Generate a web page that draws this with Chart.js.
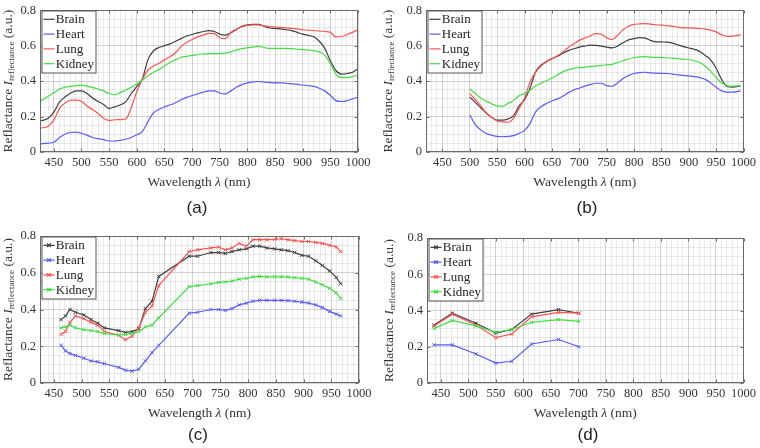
<!DOCTYPE html>
<html>
<head>
<meta charset="utf-8">
<script src="https://cdn.jsdelivr.net/npm/chart.js@4.4.0/dist/chart.umd.min.js"></script>
<style>
    body { margin: 0; background: #fff; width: 760px; height: 448px; position: relative; overflow: hidden; }
    .panel { position: absolute; width: 380px; height: 224px; }
    .cap { position: absolute; font-family: "Liberation Sans", Arial, sans-serif; font-size: 17px; color: #222; transform: translate(-50%, -50%); }
</style>
</head>
<body>
<div class="panel" style="left:0;top:0"><canvas id="chart-a"></canvas></div>
<div class="panel" style="left:380px;top:0"><canvas id="chart-b"></canvas></div>
<div class="panel" style="left:0;top:224px"><canvas id="chart-c"></canvas></div>
<div class="panel" style="left:380px;top:224px"><canvas id="chart-d"></canvas></div>
<div class="cap" style="left:197px;top:208px">(a)</div>
<div class="cap" style="left:587px;top:208px">(b)</div>
<div class="cap" style="left:198px;top:435px">(c)</div>
<div class="cap" style="left:588px;top:435px">(d)</div>

<script>
// Spectres de réflectance par tissu - 4 panneaux (a)-(d)

const tissues = ['Brain', 'Heart', 'Lung', 'Kidney'];
const tissueColors = ['#3f3f3f', '#5a5aff', '#ff5252', '#44dd44'];
const xTickLabels = [450, 500, 550, 600, 650, 700, 750, 800, 850, 900, 950, 1000];
const yTickLabels = [0, 0.2, 0.4, 0.6, 0.8];

// (a)
const wlA = [425, 440, 450, 460, 470, 480, 490, 500, 510, 520, 530, 540, 550, 560, 570, 580, 590, 600, 610, 620,
    630, 640, 650, 660, 670, 680, 690, 700, 710, 720, 730, 740, 750, 760, 770, 780, 790, 800, 810, 820,
    830, 840, 850, 860, 870, 880, 890, 900, 910, 920, 930, 940, 950, 960, 970, 980, 990, 1000];
const brainA = [0.175, 0.19, 0.225, 0.28, 0.31, 0.332, 0.345, 0.345, 0.33, 0.305, 0.285, 0.268, 0.245, 0.255, 0.265, 0.283, 0.33, 0.37, 0.41, 0.52,
    0.57, 0.59, 0.60, 0.61, 0.625, 0.64, 0.655, 0.663, 0.672, 0.68, 0.685, 0.68, 0.665, 0.66, 0.672, 0.69, 0.71, 0.717, 0.72, 0.72,
    0.71, 0.70, 0.697, 0.695, 0.69, 0.685, 0.675, 0.665, 0.658, 0.65, 0.625, 0.585, 0.515, 0.46, 0.44, 0.443, 0.45, 0.47];
const heartA = [0.046, 0.05, 0.055, 0.08, 0.10, 0.11, 0.112, 0.106, 0.095, 0.082, 0.075, 0.07, 0.062, 0.062, 0.066, 0.072, 0.082, 0.097, 0.115, 0.17,
    0.22, 0.24, 0.255, 0.265, 0.278, 0.295, 0.308, 0.318, 0.328, 0.338, 0.345, 0.345, 0.333, 0.328, 0.345, 0.365, 0.38, 0.39, 0.396, 0.398,
    0.395, 0.392, 0.39, 0.39, 0.388, 0.385, 0.382, 0.378, 0.374, 0.37, 0.36, 0.345, 0.32, 0.29, 0.285, 0.29, 0.30, 0.31];
const lungA = [0.135, 0.145, 0.18, 0.245, 0.275, 0.292, 0.293, 0.285, 0.26, 0.24, 0.217, 0.19, 0.178, 0.182, 0.183, 0.186, 0.25, 0.34, 0.41, 0.46,
    0.485, 0.50, 0.52, 0.537, 0.56, 0.595, 0.618, 0.635, 0.65, 0.66, 0.67, 0.668, 0.645, 0.64, 0.675, 0.693, 0.707, 0.715, 0.718, 0.718,
    0.712, 0.708, 0.705, 0.703, 0.70, 0.698, 0.695, 0.69, 0.687, 0.685, 0.683, 0.68, 0.675, 0.65, 0.652, 0.662, 0.675, 0.69];
const kidneyA = [0.285, 0.315, 0.335, 0.355, 0.365, 0.37, 0.375, 0.377, 0.372, 0.365, 0.355, 0.345, 0.33, 0.323, 0.335, 0.35, 0.365, 0.385, 0.405, 0.43,
    0.45, 0.465, 0.485, 0.505, 0.52, 0.535, 0.54, 0.545, 0.55, 0.553, 0.555, 0.555, 0.556, 0.558, 0.565, 0.575, 0.583, 0.588, 0.592, 0.596,
    0.59, 0.585, 0.585, 0.585, 0.585, 0.583, 0.58, 0.578, 0.575, 0.572, 0.565, 0.545, 0.50, 0.44, 0.42, 0.42, 0.425, 0.435];

// (b)
const wlB = [500, 510, 520, 530, 540, 550, 560, 570, 580, 590, 600, 610, 620, 630, 640, 650, 660, 670, 680, 690,
    700, 710, 720, 730, 740, 750, 760, 770, 780, 790, 800, 810, 820, 830, 840, 850, 860, 870, 880, 890,
    900, 910, 920, 930, 940, 950, 960, 970, 980, 990, 995];
const brainB = [0.31, 0.28, 0.25, 0.22, 0.195, 0.18, 0.18, 0.187, 0.205, 0.26, 0.295, 0.36, 0.45, 0.49, 0.51, 0.527, 0.54, 0.557, 0.572, 0.583,
    0.592, 0.598, 0.603, 0.602, 0.598, 0.592, 0.588, 0.598, 0.617, 0.633, 0.64, 0.645, 0.643, 0.63, 0.622, 0.621, 0.62, 0.614, 0.605, 0.595,
    0.587, 0.58, 0.568, 0.545, 0.52, 0.473, 0.41, 0.37, 0.366, 0.37, 0.374];
const heartB = [0.21, 0.155, 0.125, 0.104, 0.095, 0.088, 0.086, 0.088, 0.092, 0.105, 0.122, 0.16, 0.225, 0.255, 0.274, 0.288, 0.30, 0.315, 0.335, 0.35,
    0.36, 0.372, 0.38, 0.388, 0.388, 0.375, 0.371, 0.39, 0.415, 0.432, 0.443, 0.448, 0.45, 0.447, 0.445, 0.444, 0.443, 0.44, 0.435, 0.432,
    0.43, 0.425, 0.42, 0.41, 0.39, 0.365, 0.345, 0.338, 0.338, 0.342, 0.345];
const lungB = [0.33, 0.295, 0.26, 0.22, 0.195, 0.175, 0.17, 0.168, 0.19, 0.245, 0.305, 0.395, 0.45, 0.485, 0.51, 0.525, 0.543, 0.565, 0.59, 0.61,
    0.63, 0.643, 0.655, 0.668, 0.665, 0.645, 0.635, 0.658, 0.69, 0.71, 0.72, 0.723, 0.725, 0.722, 0.718, 0.716, 0.713, 0.71, 0.705, 0.70,
    0.70, 0.699, 0.697, 0.693, 0.687, 0.678, 0.661, 0.652, 0.654, 0.658, 0.663];
const kidneyB = [0.356, 0.33, 0.305, 0.288, 0.272, 0.26, 0.258, 0.275, 0.29, 0.318, 0.33, 0.348, 0.372, 0.388, 0.402, 0.418, 0.435, 0.452, 0.465, 0.472,
    0.476, 0.479, 0.482, 0.485, 0.489, 0.492, 0.495, 0.505, 0.515, 0.525, 0.532, 0.537, 0.538, 0.535, 0.534, 0.533, 0.532, 0.53, 0.527, 0.524,
    0.522, 0.515, 0.505, 0.485, 0.455, 0.42, 0.39, 0.375, 0.372, 0.373, 0.374];

// (c) bandes mesurées
const wlC = [463, 471, 479, 489, 504, 517, 529, 541, 567, 579, 591, 603, 615, 627, 639, 694, 709, 733, 747, 759,
    771, 784, 797, 809, 821, 834, 848, 860, 872, 884, 897, 909, 922, 934, 947, 959, 967];
const brainC = [0.345, 0.365, 0.40, 0.385, 0.37, 0.345, 0.325, 0.30, 0.285, 0.275, 0.28, 0.295, 0.405, 0.445, 0.58, 0.69, 0.69, 0.71, 0.71, 0.705,
    0.715, 0.725, 0.73, 0.745, 0.745, 0.735, 0.73, 0.725, 0.72, 0.71, 0.695, 0.69, 0.665, 0.64, 0.61, 0.575, 0.54];
const heartC = [0.205, 0.175, 0.16, 0.15, 0.135, 0.12, 0.115, 0.105, 0.085, 0.07, 0.065, 0.075, 0.12, 0.165, 0.205, 0.38, 0.385, 0.40, 0.40, 0.395,
    0.405, 0.425, 0.435, 0.445, 0.45, 0.45, 0.45, 0.45, 0.448, 0.445, 0.44, 0.435, 0.425, 0.41, 0.39, 0.375, 0.365];
const lungC = [0.265, 0.28, 0.33, 0.365, 0.35, 0.33, 0.315, 0.28, 0.26, 0.235, 0.255, 0.30, 0.385, 0.42, 0.53, 0.715, 0.725, 0.735, 0.74, 0.725,
    0.735, 0.76, 0.745, 0.78, 0.78, 0.78, 0.782, 0.785, 0.78, 0.775, 0.77, 0.77, 0.765, 0.76, 0.75, 0.74, 0.715];
const kidneyC = [0.30, 0.305, 0.315, 0.30, 0.29, 0.285, 0.28, 0.27, 0.26, 0.265, 0.27, 0.28, 0.305, 0.315, 0.355, 0.525, 0.53, 0.54, 0.548, 0.55,
    0.555, 0.565, 0.57, 0.578, 0.58, 0.578, 0.578, 0.578, 0.577, 0.573, 0.57, 0.565, 0.55, 0.535, 0.515, 0.49, 0.46];

// (d)
const wlD = [438, 471, 514, 550, 579, 615, 664, 701];
const brainD = [0.32, 0.385, 0.33, 0.275, 0.295, 0.38, 0.405, 0.385];
const heartD = [0.21, 0.21, 0.16, 0.11, 0.12, 0.215, 0.24, 0.20];
const lungD = [0.315, 0.38, 0.32, 0.25, 0.27, 0.365, 0.39, 0.385];
const kidneyD = [0.30, 0.345, 0.315, 0.28, 0.295, 0.335, 0.35, 0.34];

const SERIF = '"Liberation Serif", "Times New Roman", serif';
const frameColor = '#6a6a6a';
const textColor = '#333';
const gridMajor = 'rgba(0,0,0,0.17)';
const gridMinor = 'rgba(0,0,0,0.08)';

const isMajorY = v => yTickLabels.some(t => Math.abs(t - v) < 1e-6);
const isMajorX = v => xTickLabels.includes(Math.round(v));

// Cadre, petites graduations internes, légende et titres des axes (façon MATLAB)
const matlabAxes = {
    id: 'matlabAxes',
    afterDraw(chart, args, opts) {
        const { ctx, chartArea: a, scales: { x, y } } = chart;
        ctx.save();
        const L = Math.round(a.left) + 0.5, R = Math.round(a.right) - 0.5;
        const T = Math.round(a.top) + 0.5, B = Math.round(a.bottom) - 0.5;

        ctx.strokeStyle = frameColor;
        ctx.lineWidth = 1;
        ctx.strokeRect(L, T, R - L, B - T);

        ctx.beginPath();
        xTickLabels.forEach(v => {
            if (v < x.min) return;
            const px = Math.round(x.getPixelForValue(v)) + 0.5;
            ctx.moveTo(px, B); ctx.lineTo(px, B - 3);
            ctx.moveTo(px, T); ctx.lineTo(px, T + 3);
        });
        yTickLabels.forEach(v => {
            const py = Math.round(y.getPixelForValue(v)) + 0.5;
            ctx.moveTo(L, py); ctx.lineTo(L + 3, py);
            ctx.moveTo(R, py); ctx.lineTo(R - 3, py);
        });
        ctx.stroke();

        // légende
        ctx.font = '13px ' + SERIF;
        const widest = Math.max(...tissues.map(t => ctx.measureText(t).width));
        const bx = L + 1.5, by = T + 0.5, rowH = 14.8;
        const bw = Math.round(13.6 + widest + 2.5), bh = Math.round(8.3 + 3 * rowH + 9);
        ctx.fillStyle = '#fff';
        ctx.fillRect(bx, by, bw, bh);
        ctx.strokeStyle = '#555';
        ctx.strokeRect(bx, by, bw, bh);
        tissues.forEach((name, k) => {
            const ry = by + 8.3 + k * rowH;
            ctx.strokeStyle = tissueColors[k];
            ctx.lineWidth = 1.2;
            ctx.beginPath();
            ctx.moveTo(bx + 1.5, ry); ctx.lineTo(bx + 12.5, ry);
            if (opts.markers) {
                const cx = bx + 7, r = 1.8;
                ctx.moveTo(cx - r, ry - r); ctx.lineTo(cx + r, ry + r);
                ctx.moveTo(cx - r, ry + r); ctx.lineTo(cx + r, ry - r);
            }
            ctx.stroke();
            ctx.fillStyle = '#222';
            ctx.textBaseline = 'middle';
            ctx.textAlign = 'left';
            ctx.fillText(name, bx + 13.8, ry + 0.5);
        });

        ctx.fillStyle = textColor;
        ctx.textBaseline = 'middle';
        ctx.textAlign = 'left';

        // titre axe x
        const xParts = [['Wavelength ', ''], ['λ', 'italic '], [' (nm)', '']];
        drawParts(ctx, xParts, (a.left + a.right) / 2, a.bottom + 30, 13.5, 0);

        // titre axe y avec indice
        ctx.translate(opts.yTitleX, (a.top + a.bottom) / 2);
        ctx.rotate(-Math.PI / 2);
        const yParts = [['Reflactance ', '', 13.5, 0], ['I', 'italic ', 13.5, 0], ['reflectance', '', 9, 3.5], [' (a.u.)', '', 13.5, 0]];
        drawParts(ctx, yParts, 0, 0, 13.5, 0);
        ctx.restore();
    }
};

function drawParts(ctx, parts, cx, cy, size) {
    const fonts = parts.map(p => (p[1] || '') + (p[2] || size) + 'px ' + SERIF);
    let total = 0;
    parts.forEach((p, i) => { ctx.font = fonts[i]; total += ctx.measureText(p[0]).width; });
    let px = cx - total / 2;
    parts.forEach((p, i) => {
        ctx.font = fonts[i];
        ctx.fillText(p[0], px, cy + (p[3] || 0));
        px += ctx.measureText(p[0]).width;
    });
}

function makeChart(id, box, wl, series, withMarkers) {
    return new Chart(document.getElementById(id), {
        type: 'line',
        data: {
            datasets: tissues.map((name, k) => ({
                label: name,
                data: wl.map((w, i) => ({ x: w, y: series[k][i] })),
                borderColor: tissueColors[k],
                backgroundColor: tissueColors[k],
                borderWidth: 1.2,
                pointStyle: withMarkers ? 'crossRot' : false,
                pointRadius: withMarkers ? 2.4 : 0,
                pointBorderWidth: 1,
                cubicInterpolationMode: withMarkers ? 'default' : 'monotone',
                tension: 0,
                order: 3 - k
            }))
        },
        options: {
            responsive: true,
            maintainAspectRatio: false,
            animation: false,
            events: [],
            layout: { padding: { left: 0, top: box.T, right: 380 - box.R, bottom: 0 } },
            plugins: {
                legend: { display: false },
                tooltip: { enabled: false },
                matlabAxes: { markers: withMarkers, yTitleX: box.yTitleX }
            },
            scales: {
                x: {
                    type: 'linear',
                    min: box.xMin,
                    max: 1000,
                    afterFit: s => { s.height = 224 - box.B; },
                    border: { display: false },
                    grid: { drawTicks: false, color: c => isMajorX(c.tick.value) ? gridMajor : gridMinor },
                    ticks: {
                        stepSize: 10, autoSkip: false, maxRotation: 0, minRotation: 0, padding: 4,
                        color: textColor, font: { family: SERIF, size: 12.5, lineHeight: 1 },
                        callback: v => xTickLabels.includes(v) ? String(v) : ''
                    }
                },
                y: {
                    min: 0,
                    max: 0.8,
                    afterFit: s => { s.width = box.L; },
                    border: { display: false },
                    grid: { drawTicks: false, color: c => isMajorY(c.tick.value) ? gridMajor : gridMinor },
                    ticks: {
                        stepSize: 0.05, autoSkip: false, padding: 4,
                        color: textColor, font: { family: SERIF, size: 12.5, lineHeight: 1 },
                        callback: v => isMajorY(v) ? String(Math.round(v * 10) / 10) : ''
                    }
                }
            }
        },
        plugins: [matlabAxes]
    });
}

makeChart('chart-a', { L: 40, R: 358, T: 6, B: 152, xMin: 425, yTitleX: 8 }, wlA, [brainA, heartA, lungA, kidneyA], false);
makeChart('chart-b', { L: 46, R: 364, T: 6, B: 152, xMin: 420, yTitleX: 8.5 }, wlB, [brainB, heartB, lungB, kidneyB], false);
makeChart('chart-c', { L: 40, R: 359, T: 12, B: 159, xMin: 425, yTitleX: 8 }, wlC, [brainC, heartC, lungC, kidneyC], true);
makeChart('chart-d', { L: 47, R: 367, T: 14, B: 159, xMin: 425, yTitleX: 9 }, wlD, [brainD, heartD, lungD, kidneyD], true);
</script>
</body>
</html>
